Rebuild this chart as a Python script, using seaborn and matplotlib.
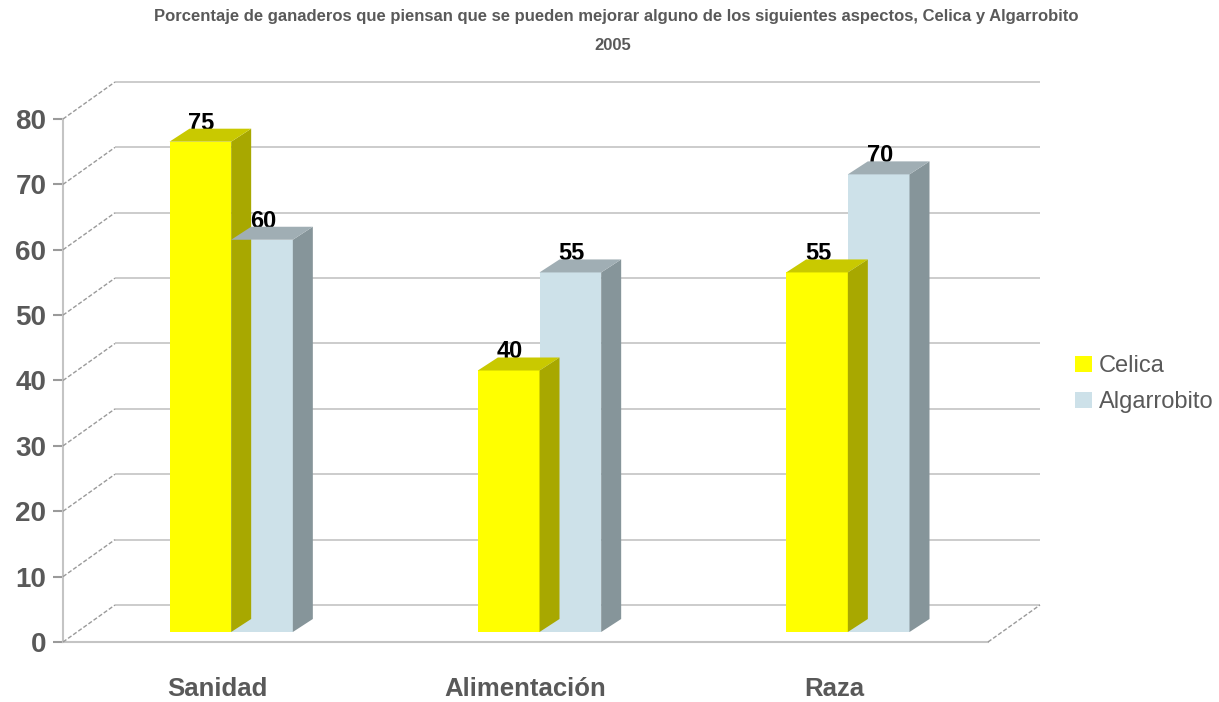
import matplotlib
matplotlib.use("Agg")
import matplotlib.pyplot as plt
import matplotlib.transforms as mtrans
from matplotlib.patches import Polygon, Patch
from matplotlib.lines import Line2D
import seaborn as sns
import pandas as pd
import numpy as np

# ---- data ----
categorias = ["Sanidad", "Alimentación", "Raza"]
celica = [75, 40, 55]
algarrobito = [60, 55, 70]
series = ["Celica", "Algarrobito"]
yticks = [0, 10, 20, 30, 40, 50, 60, 70, 80]
titulo1 = "Porcentaje de ganaderos que piensan que se pueden mejorar alguno de los siguientes aspectos, Celica y Algarrobito"
titulo2 = "2005"

df = pd.DataFrame({
    "aspecto": categorias * 2,
    "pct": celica + algarrobito,
    "serie": [series[0]] * 3 + [series[1]] * 3,
})

# ---- style ----
sns.set_style("white")
plt.rcParams["font.family"] = ["Liberation Sans", "DejaVu Sans"]
GRAY = "#595959"
LINE = "#C4C4C4"
front_cols = {"Celica": "#FFFF00", "Algarrobito": "#CDE1E9"}
top_cols = {"Celica": "#C9C900", "Algarrobito": "#A0AEB4"}
side_cols = {"Celica": "#A8A800", "Algarrobito": "#86959A"}

W, H, DPI = 1219, 702, 100
fig = plt.figure(figsize=(W / DPI, H / DPI), dpi=DPI)
ax = fig.add_axes([63 / W, 60 / H, 925 / W, 523 / H])

sns.barplot(data=df, x="aspecto", y="pct", hue="serie", order=categorias,
            hue_order=series, palette=front_cols, width=0.4, saturation=1,
            linewidth=0, legend=False, ax=ax, zorder=2)
ax.set_xlim(-0.5, 2.5)
ax.set_ylim(0, 80)
ax.set_yticks(yticks)
ax.set_xlabel("")
ax.set_ylabel("")

px = lambda v: v / DPI
def shift(dx, dy):
    return mtrans.ScaledTranslation(px(dx), px(dy), fig.dpi_scale_trans)

# wall depth, bar front offset, bar depth (pixels)
WDX, WDY = 52, 37
BFX, BFY = 14, 10
BDX, BDY = 20, 13

# back wall gridlines
ax.hlines(yticks, 0, 1, transform=ax.get_yaxis_transform() + shift(WDX, WDY),
          colors=LINE, lw=1.2, zorder=0.5, clip_on=False)
# left wall diagonals
for yv in yticks:
    x0, y0 = ax.transData.transform((-0.5, yv))
    ln = Line2D([x0, x0 + WDX], [y0, y0 + WDY], transform=mtrans.IdentityTransform(),
                color="#9A9A9A", lw=1, ls=(0, (3, 1.5)), zorder=0.6)
    fig.add_artist(ln)
# floor right diagonal
x0, y0 = ax.transData.transform((2.5, 0))
fig.add_artist(Line2D([x0, x0 + WDX], [y0, y0 + WDY], transform=mtrans.IdentityTransform(),
                      color="#9A9A9A", lw=1, ls=(0, (3, 1.5)), zorder=0.6))

# 3D bars
for k, (cont, name) in enumerate(zip(ax.containers, series)):
    for bar in cont:
        bar.set_transform(ax.transData + shift(BFX, BFY))
        bar.set_zorder(2 + k)
        bar.set_clip_on(False)
        bb = bar.get_bbox()
        (xa, ya) = ax.transData.transform((bb.x0, bb.y0)) + np.array([BFX, BFY])
        (xb, yb) = ax.transData.transform((bb.x1, bb.y1)) + np.array([BFX, BFY])
        side = Polygon([(xb, ya), (xb, yb), (xb + BDX, yb + BDY), (xb + BDX, ya + BDY)],
                       closed=True, facecolor=side_cols[name], edgecolor="none",
                       transform=mtrans.IdentityTransform(), zorder=2.1 + k)
        top = Polygon([(xa, yb), (xb, yb), (xb + BDX, yb + BDY), (xa + BDX, yb + BDY)],
                      closed=True, facecolor=top_cols[name], edgecolor="none",
                      transform=mtrans.IdentityTransform(), zorder=2.2 + k)
        fig.add_artist(side)
        fig.add_artist(top)
        xc = (bb.x0 + bb.x1) / 2
        ax.text(xc, bb.y1, f"{int(round(bb.y1))}", transform=ax.transData + shift(BFX + 1, BFY + 12),
                ha="center", va="baseline", fontsize=17, fontweight="bold", color="black",
                zorder=5, clip_on=False)

# spines and ticks
for s in ["top", "right"]:
    ax.spines[s].set_visible(False)
for s in ["left", "bottom"]:
    ax.spines[s].set_color(LINE)
    ax.spines[s].set_linewidth(1.5)
    ax.spines[s].set_zorder(1)
ax.tick_params(axis="y", direction="out", length=7, width=1.5, color="#9A9A9A",
               pad=5, labelsize=20, labelcolor=GRAY, left=True)
ax.tick_params(axis="x", length=0, pad=25, labelsize=18.5, labelcolor=GRAY)
for lab in ax.get_yticklabels() + ax.get_xticklabels():
    lab.set_fontweight("bold")
ax.patch.set_visible(False)

# legend
handles = [Patch(facecolor=front_cols[s], edgecolor="none", label=s) for s in series]
fig.legend(handles=handles, loc="center left", bbox_to_anchor=(1066 / W, (H - 384) / H),
           frameon=False, fontsize=17, handlelength=0.68, handleheight=0.68,
           handletextpad=0.3, labelspacing=0.6, labelcolor=GRAY, borderaxespad=0)

# title
fig.text(616 / W, 1 - 17 / H, titulo1, ha="center", va="center", fontsize=12,
         fontweight="bold", color=GRAY)
fig.text(613 / W, 1 - 45 / H, titulo2, ha="center", va="center", fontsize=12,
         fontweight="bold", color=GRAY)

fig.savefig("out.png", dpi=DPI)
